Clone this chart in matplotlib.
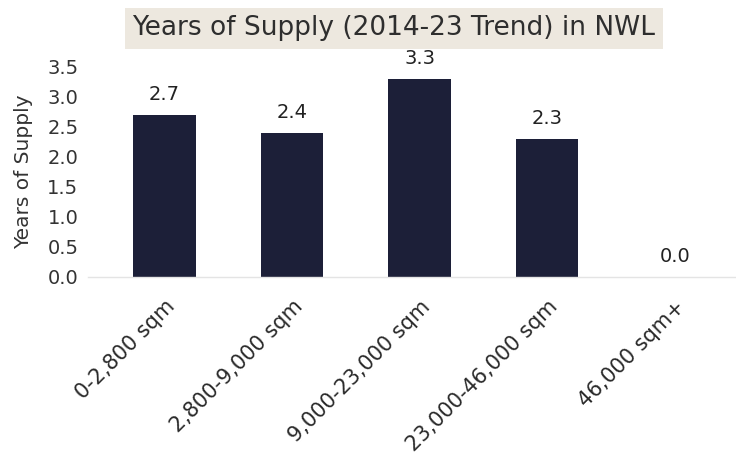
import matplotlib
matplotlib.use("Agg")
import matplotlib.pyplot as plt

categories = ["0-2,800 sqm", "2,800-9,000 sqm", "9,000-23,000 sqm",
              "23,000-46,000 sqm", "46,000 sqm+"]
values = [2.7, 2.4, 3.3, 2.3, 0.0]
yticks = [0.0, 0.5, 1.0, 1.5, 2.0, 2.5, 3.0, 3.5]

plt.rcParams["font.family"] = ["DejaVu Sans"]

W, H = 736, 470
fig = plt.figure(figsize=(W / 100, H / 100), dpi=100)
# axes box in pixels: left 88, right 736, y=0 at 277, y=3.5 at 67
ax = fig.add_axes([88 / W, (H - 277) / H, (736 - 88) / W, 210 / H])

bar_color = "#1c1f38"
ax.bar(range(len(categories)), values, width=0.49, color=bar_color)

for i, v in enumerate(values):
    ax.annotate(f"{v:.1f}", (i, v), xytext=(0, 8), textcoords="offset points",
                ha="center", va="bottom", fontsize=14, color="#222222")

ax.set_xlim(-0.6, 4.48)
ax.set_ylim(0, 3.5)
ax.set_yticks(yticks)
ax.set_yticklabels([f"{t:.1f}" for t in yticks], fontsize=14, color="#333333")
ax.set_xticks(range(len(categories)))
ax.set_xticklabels(categories, rotation=45, ha="right", rotation_mode="anchor",
                   fontsize=15, color="#2a2a2a")
ax.tick_params(axis="both", length=0)
ax.tick_params(axis="x", pad=14)
ax.tick_params(axis="y", pad=7)

for s in ["top", "right", "left"]:
    ax.spines[s].set_visible(False)
ax.spines["bottom"].set_color("#e4e4e4")
ax.spines["bottom"].set_linewidth(1.0)

ax.set_ylabel("Years of Supply", fontsize=14.5, color="#333333", labelpad=10)

fig.text(0.535, 0.94, "Years of Supply (2014-23 Trend) in NWL",
         ha="center", va="center", fontsize=19, color="#2e2e2e",
         bbox=dict(boxstyle="square,pad=0.28", facecolor="#ede8df",
                   edgecolor="none"))

fig.savefig("out.png", dpi=100, facecolor="white")
